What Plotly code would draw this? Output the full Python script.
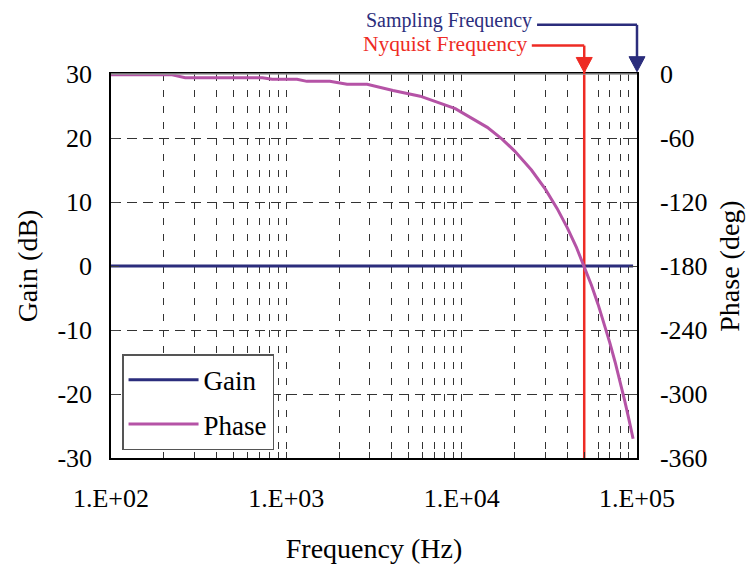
import math
import plotly.graph_objects as go

freq_hz = [100, 220, 265, 730, 830, 1150, 1310, 1770, 2220, 2890, 4060, 5800,
           9200, 10000, 12000, 14000, 17000, 20000, 25000, 30000, 35000, 40000,
           45000, 50000, 55000, 60000, 65000, 70000, 75000, 80000, 85000,
           90000, 95000]
gain_db = [0] * len(freq_hz)
phase_deg = [-0.6, -0.6, -3.5, -3.5, -5.0, -5.0, -6.9, -6.9, -9.7, -9.7, -15.5,
             -20.8, -32.5, -36, -43, -50, -61, -72, -90, -108, -126, -144,
             -162, -180, -198, -216, -234, -252, -270, -288, -306, -324, -342]

nyquist_hz = 50000
sampling_hz = 100000

x_ticks = [100, 1000, 10000, 100000]
x_ticktext = ["1.E+02", "1.E+03", "1.E+04", "1.E+05"]
gain_ticks = [-30, -20, -10, 0, 10, 20, 30]
phase_ticks = [-360, -300, -240, -180, -120, -60, 0]

FONT = "Liberation Serif, Times New Roman, serif"
NAVY = "#2b2d7c"
MAGENTA = "#b553a6"
RED = "#ee2b24"

# gridlines at every 1..9 multiple in each decade
grid_vals = [m * 10 ** e for e in range(2, 5) for m in range(1, 10)] + [100000]
grid_text = [x_ticktext[x_ticks.index(v)] if v in x_ticks else "" for v in grid_vals]

fig = go.Figure()
fig.add_trace(go.Scatter(x=freq_hz, y=gain_db, name="Gain", mode="lines",
                         legendgroup="g", line=dict(color=NAVY, width=3)))
fig.add_trace(go.Scatter(x=freq_hz, y=phase_deg, name="Phase", mode="lines",
                         legendgroup="p", line=dict(color=MAGENTA, width=3),
                         yaxis="y2"))
fig.add_trace(go.Scatter(x=[nyquist_hz, nyquist_hz], y=[-30, 30], mode="lines",
                         line=dict(color=RED, width=2.5), showlegend=False,
                         cliponaxis=False))


def paper_x(f):
    return (math.log10(f) - 2) / 3


nx = paper_x(nyquist_hz)
sx = paper_x(sampling_hz)

shapes = [
    # grey top border like the original
    dict(type="line", xref="paper", yref="paper", x0=0, x1=1, y0=1, y1=1,
         line=dict(color="#999", width=1.5)),
    # sampling frequency connector
    dict(type="line", xref="paper", yref="paper", x0=0.81, x1=sx, y0=1.128, y1=1.128,
         line=dict(color=NAVY, width=2.5)),
    dict(type="line", xref="paper", yref="paper", x0=sx, x1=sx, y0=1.128, y1=1.04,
         line=dict(color=NAVY, width=2.5)),
    dict(type="path", xref="paper", yref="paper", xsizemode="pixel", ysizemode="pixel",
         xanchor=sx, yanchor=1.006, path="M -8,15 L 8,15 L 0,0 Z",
         fillcolor=NAVY, line=dict(color=NAVY, width=1)),
    # nyquist connector
    dict(type="line", xref="paper", yref="paper", x0=0.80, x1=nx, y0=1.074, y1=1.074,
         line=dict(color=RED, width=2.5)),
    dict(type="line", xref="paper", yref="paper", x0=nx, x1=nx, y0=1.074, y1=1.0,
         line=dict(color=RED, width=2.5)),
    dict(type="path", xref="paper", yref="paper", xsizemode="pixel", ysizemode="pixel",
         xanchor=nx, yanchor=1.004, path="M -8,15 L 8,15 L 0,0 Z",
         fillcolor=RED, line=dict(color=RED, width=1)),
]

annotations = [
    dict(text="Sampling Frequency", xref="paper", yref="paper", x=0.805, y=1.14,
         xanchor="right", yanchor="middle", showarrow=False,
         font=dict(family=FONT, size=20, color=NAVY)),
    dict(text="Nyquist Frequency", xref="paper", yref="paper", x=0.795, y=1.078,
         xanchor="right", yanchor="middle", showarrow=False,
         font=dict(family=FONT, size=21.5, color=RED)),
]

# the page puts the figure 8px in from the top-left corner
fig.update_layout(
    width=756, height=571,
    margin=dict(l=103, r=127, t=66, b=121),
    paper_bgcolor="white", plot_bgcolor="white",
    font=dict(family=FONT, size=26, color="black"),
    showlegend=True,
    legend=dict(x=0.021, y=0.27, xanchor="left", yanchor="top",
                bgcolor="white", bordercolor="#555", borderwidth=1.5,
                font=dict(family=FONT, size=27), itemwidth=70,
                tracegroupgap=6),
    xaxis=dict(type="log", range=[2, 5], tickvals=grid_vals, ticktext=grid_text,
               tickfont=dict(size=26),
               showgrid=True, gridcolor="#333", griddash="7px,9px", gridwidth=1,
               ticks="inside", ticklen=6, tickcolor="#333",
               showline=True, linecolor="black", linewidth=1.5, mirror=True,
               ticklabelstandoff=16,
               title=dict(text="Frequency (Hz)", standoff=26,
                          font=dict(family=FONT, size=28))),
    yaxis=dict(range=[-30, 30], tickvals=gain_ticks,
               ticktext=[str(v) for v in gain_ticks], tickfont=dict(size=26),
               showgrid=True, gridcolor="#333", griddash="10px,6px", gridwidth=1,
               zeroline=False, ticks="inside", ticklen=8,
               showline=True, linecolor="black", linewidth=1.5,
               ticklabelstandoff=12,
               title=dict(text="Gain (dB)", standoff=12,
                          font=dict(family=FONT, size=28))),
    yaxis2=dict(range=[-360, 0], tickvals=phase_ticks,
                ticktext=[str(v) for v in phase_ticks], tickfont=dict(size=26),
                overlaying="y", side="right",
                showgrid=False, zeroline=False, ticks="inside", ticklen=8,
                showline=True, linecolor="black", linewidth=1.5,
                ticklabelstandoff=16,
                title=dict(text="Phase (deg)", standoff=13,
                           font=dict(family=FONT, size=28))),
    shapes=shapes,
    annotations=annotations,
)

fig.write_html("out.html")
